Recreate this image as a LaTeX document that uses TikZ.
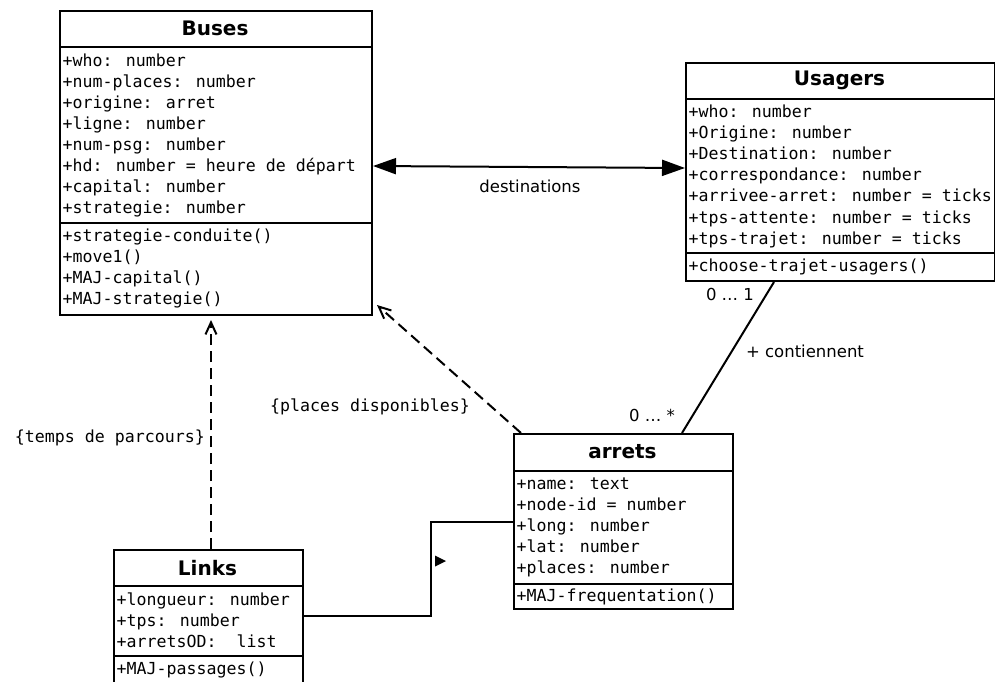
\documentclass[tikz,border=0pt]{standalone}
\usepackage{fontspec}
\newfontfamily\umlmono{DejaVu Sans Mono}
\newfontfamily\umlsans{DejaVu Sans}
\usetikzlibrary{arrows.meta,calc}
\begin{document}
\begin{tikzpicture}[x=1pt,y=-1pt,
  classbox/.style={draw, line width=2pt, anchor=north west, inner sep=0pt},
  divider/.style={line width=2pt},
  title/.style={font=\umlsans\bfseries\fontsize{20}{24}\selectfont, inner sep=0pt, anchor=center},
  row/.style={font=\umlmono\fontsize{16.6}{20}\selectfont, anchor=base west, inner sep=0pt},
  lbl/.style={font=\umlsans\fontsize{16.5}{20}\selectfont, inner sep=0pt},
  monolbl/.style={font=\umlmono\fontsize{16.6}{20}\selectfont, inner sep=0pt},
  assoc/.style={line width=2pt},
  dep/.style={line width=2pt, dash pattern=on 11pt off 6pt, -{Straight Barb[length=12pt,width=11pt]}},
  both/.style={{Triangle[length=23pt,width=16pt]}-{Triangle[length=23pt,width=16pt]}}
]
\useasboundingbox (0,0) rectangle (995,681);
\clip (0,0) rectangle (995,681);

% ---------- Buses ----------
\node[classbox, minimum width=312pt, minimum height=304pt] (buses) at (59,10) {};
\draw[divider] ($(buses.north west)+(0,37)$) -- ($(buses.north east)+(0,37)$);
\draw[divider] ($(buses.north west)+(0,213)$) -- ($(buses.north east)+(0,213)$);
\node[title] (busesT) at (215,28) {Buses};
\foreach \t [count=\i] in {{+who: number},{+num-places: number},{+origine: arret},{+ligne: number},{+num-psg: number},{+hd: number = heure de départ},{+capital: number},{+strategie: number}}
  \node[row] (busA\i) at (62.5,{66+21.1*(\i-1)}) {\t};
\foreach \t [count=\i] in {{+strategie-conduite()},{+move1()},{+MAJ-capital()},{+MAJ-strategie()}}
  \node[row] (busO\i) at (62.5,{241+21.1*(\i-1)}) {\t};

% ---------- Usagers ----------
\node[classbox, minimum width=309pt, minimum height=218pt] (usagers) at (685,62) {};
\draw[divider] ($(usagers.north west)+(0,37)$) -- ($(usagers.north east)+(0,37)$);
\draw[divider] ($(usagers.north west)+(0,191)$) -- ($(usagers.north east)+(0,191)$);
\node[title] (usagersT) at (839.5,80) {Usagers};
\foreach \t [count=\i] in {{+who: number},{+Origine: number},{+Destination: number},{+correspondance: number},{+arrivee-arret: number = ticks},{+tps-attente: number = ticks},{+tps-trajet: number = ticks}}
  \node[row] (usaA\i) at (688.5,{117+21.2*(\i-1)}) {\t};
\node[row] (usaO1) at (688.5,271) {+choose-trajet-usagers()};

% ---------- arrets ----------
\node[classbox, minimum width=219pt, minimum height=175pt] (arrets) at (513,433) {};
\draw[divider] ($(arrets.north west)+(0,38)$) -- ($(arrets.north east)+(0,38)$);
\draw[divider] ($(arrets.north west)+(0,151)$) -- ($(arrets.north east)+(0,151)$);
\node[title] (arretsT) at (622.5,452) {arrets};
\foreach \t [count=\i] in {{+name: text},{+node-id = number},{+long: number},{+lat: number},{+places: number}}
  \node[row] (arrA\i) at (516.5,{489+21.2*(\i-1)}) {\t};
\node[row] (arrO1) at (516.5,601) {+MAJ-frequentation()};

% ---------- Links ----------
\node[classbox, minimum width=189pt, minimum height=145pt] (links) at (113,549) {};
\draw[divider] ($(links.north west)+(0,37)$) -- ($(links.north east)+(0,37)$);
\draw[divider] ($(links.north west)+(0,107)$) -- ($(links.north east)+(0,107)$);
\node[title] (linksT) at (207.5,568) {Links};
\node[row] (linA1) at (116.5,605) {+longueur: number};
\node[row] (linA2) at (116.5,626) {+tps: number};
\node[row] (linA3) at (116.5,647) {+arretsOD:\ \ list};
\node[row] (linO1) at (116.5,674) {+MAJ-passages()};

% ---------- connectors ----------
\draw[assoc, both] ($(buses.north east)+(0,156)$) -- ($(usagers.north west)+(0,106)$);
\node[lbl] (destL) at (530,186) {destinations};

\draw[assoc] ($(usagers.south west)+(89,0)$) -- ($(arrets.north west)+(169,0)$);
\node[lbl] (mult1) at (730,294) {0 … 1};
\node[lbl] (contL) at (805,351) {+ contiennent};
\node[lbl] (mult2) at (652,415) {0 … *};

\draw[dep] ($(arrets.north west)+(8,0)$) -- ($(buses.south east)+(4,-11)$);
\node[monolbl] (placesL) at (370,407) {\{places disponibles\}};

\draw[dep, shorten >=4pt] ($(links.north west)+(98,0)$) -- ($(buses.south west)+(152,0)$);
\node[monolbl, anchor=east] (tempsL) at (205,438) {\{temps de parcours\}};

\draw[assoc] ($(links.north east)+(0,67)$) -- ++(127,0) |- ($(arrets.north west)+(0,89)$);
\fill (435,555.5) -- (446,561) -- (435,566.5) -- cycle;
\end{tikzpicture}
\end{document}
